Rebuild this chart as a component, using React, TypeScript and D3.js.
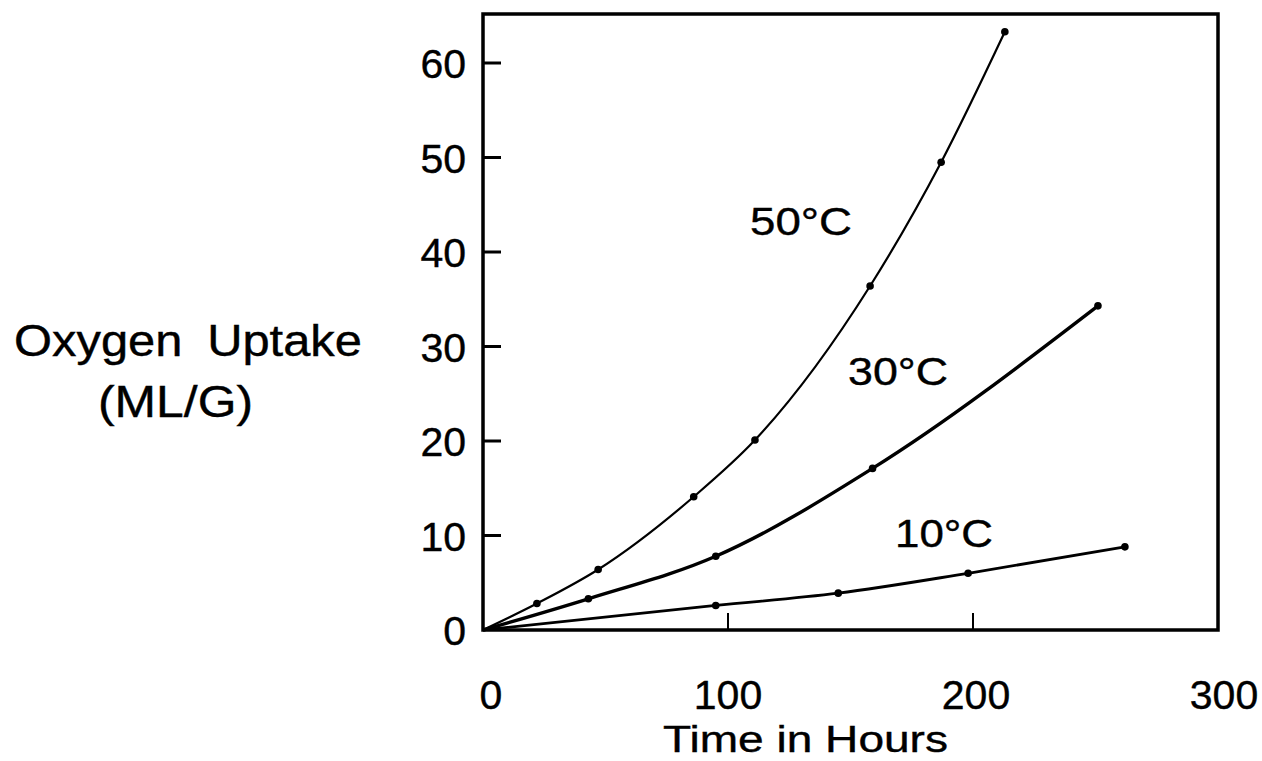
import React from "react";
import * as d3 from "d3";

// Oxygen uptake (ML/G) against time (hours) at three temperatures
const hours50 = [0, 22, 47, 86, 111, 158, 187, 213];
const uptake50 = [0, 2.8, 6.4, 14.1, 20.1, 36.4, 49.5, 63.3];
const hours30 = [0, 43, 95, 159, 251];
const uptake30 = [0, 3.3, 7.8, 17.1, 34.3];
const hours10 = [0, 95, 145, 198, 262];
const uptake10 = [0, 2.6, 3.9, 6.0, 8.8];

const xTicks = [0, 100, 200, 300];
const yTicks = [0, 10, 20, 30, 40, 50, 60];

const seriesNames = ["50°C", "30°C", "10°C"];

const W = 1262;
const H = 761;
const left = 483;
const right = 1218;
const top = 14;
const bottom = 630;

const FONT = "'Liberation Sans', Arial, Helvetica, sans-serif";
const ink = { fill: "#000", stroke: "#000", strokeWidth: 0.4 };

export default function App() {
  const x = d3.scaleLinear().domain([0, 300]).range([left, right]);
  const y = d3.scaleLinear().domain([0, 60]).range([bottom, 63]);

  const line = d3
    .line<[number, number]>()
    .x((d) => x(d[0]))
    .y((d) => y(d[1]))
    .curve(d3.curveMonotoneX);

  const series = [
    { name: seriesNames[0], xs: hours50, ys: uptake50, width: 2.2, r: 3.8, label: { x: 750, y: 235, len: 102 } },
    { name: seriesNames[1], xs: hours30, ys: uptake30, width: 3.4, r: 3.8, label: { x: 848, y: 385, len: 100 } },
    { name: seriesNames[2], xs: hours10, ys: uptake10, width: 2.8, r: 3.8, label: { x: 895, y: 547, len: 98 } },
  ];

  const xLabelShift = (t: number) => (t === 0 ? 8 : t === 300 ? 6 : t === 200 ? 3 : 0);

  return (
    <svg
      width={W}
      height={H}
      style={{ position: "absolute", left: 0, top: 0, background: "#fff" }}
      fontFamily={FONT}
    >
      <rect x={0} y={0} width={W} height={H} fill="#fff" />

      {/* frame */}
      <rect
        x={left}
        y={top}
        width={right - left}
        height={bottom - top}
        fill="none"
        stroke="#000"
        strokeWidth={3.5}
      />

      {/* y ticks and labels */}
      {yTicks.map((t) => (
        <g key={"y" + t}>
          {t > 0 && (
            <line x1={left} x2={left + 18} y1={y(t)} y2={y(t)} stroke="#000" strokeWidth={3} />
          )}
          <text x={466} y={y(t) + 15} fontSize={41} textAnchor="end" {...ink}>
            {t}
          </text>
        </g>
      ))}

      {/* x ticks and labels */}
      {xTicks.map((t) => (
        <g key={"x" + t}>
          {t > 0 && t < 300 && (
            <line x1={x(t)} x2={x(t)} y1={bottom} y2={bottom - 17} stroke="#000" strokeWidth={2} />
          )}
          <text x={x(t) + xLabelShift(t)} y={709} fontSize={41} textAnchor="middle" {...ink}>
            {t}
          </text>
        </g>
      ))}

      {/* axis titles */}
      <text x={663} y={752} fontSize={37} textLength={285} lengthAdjust="spacingAndGlyphs" {...ink}>
        Time in Hours
      </text>
      <text x={14} y={356} fontSize={44} textLength={348} lengthAdjust="spacingAndGlyphs" wordSpacing={10} {...ink}>
        Oxygen Uptake
      </text>
      <text x={98} y={417} fontSize={44} textLength={155} lengthAdjust="spacingAndGlyphs" {...ink}>
        (ML/G)
      </text>

      {/* curves with measured points */}
      {series.map((s) => {
        const pts = s.xs.map((v, i) => [v, s.ys[i]] as [number, number]);
        return (
          <g key={s.name}>
            <path d={line(pts) || ""} fill="none" stroke="#000" strokeWidth={s.width} />
            {pts.slice(1).map((p, i) => (
              <circle key={i} cx={x(p[0])} cy={y(p[1])} r={s.r} fill="#000" />
            ))}
            <text
              x={s.label.x}
              y={s.label.y}
              fontSize={39}
              textLength={s.label.len}
              lengthAdjust="spacingAndGlyphs"
              {...ink}
            >
              {s.name}
            </text>
          </g>
        );
      })}
    </svg>
  );
}
